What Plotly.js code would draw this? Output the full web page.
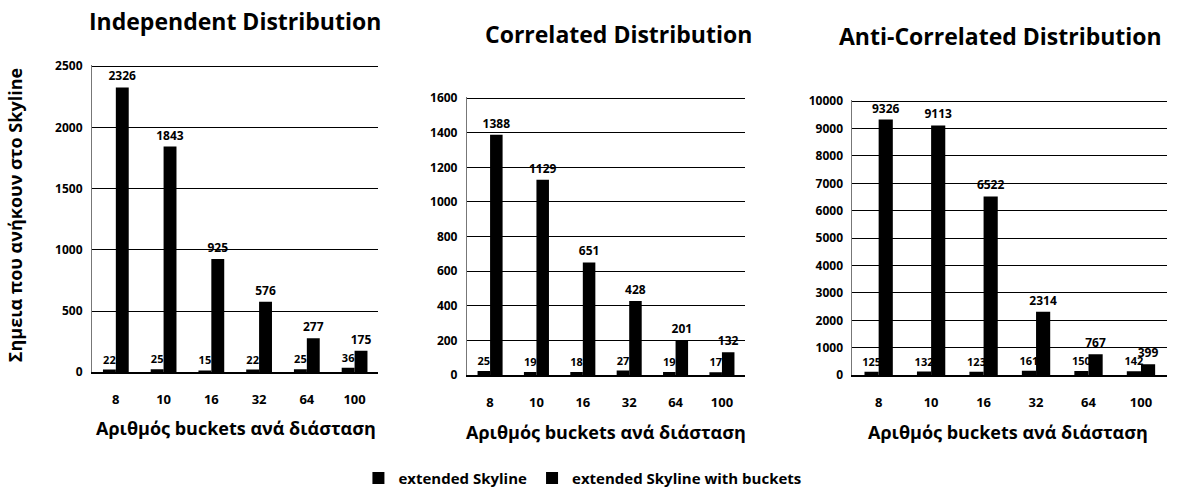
<!DOCTYPE html>
<html>
<head>
<meta charset="utf-8">
<script src="https://cdn.plot.ly/plotly-3.0.1.min.js"></script>
<style>html,body{margin:0;padding:0;background:#fff;}#chart{width:1179px;height:495px;}</style>
</head>
<body>
<div id="chart"></div>
<script>
const categories = ['8', '10', '16', '32', '64', '100'];
const seriesNames = ['extended Skyline', 'extended Skyline with buckets'];

const indepExt = [22, 25, 15, 22, 25, 36];
const indepBuckets = [2326, 1843, 925, 576, 277, 175];
const corrExt = [25, 19, 18, 27, 19, 17];
const corrBuckets = [1388, 1129, 651, 428, 201, 132];
const antiExt = [125, 132, 123, 161, 150, 142];
const antiBuckets = [9326, 9113, 6522, 2314, 767, 399];

const panelTitles = ['Independent Distribution', 'Correlated Distribution', 'Anti-Correlated Distribution'];
const xTitle = 'Αριθμός buckets ανά διάσταση';
const yTitle = 'Σημεια που ανήκουν στο Skyline';

const FONT = 'Open Sans, Liberation Sans, sans-serif';
const panels = [
  {ext: indepExt, bk: indepBuckets, xa: 'x', ya: 'y', range: [0, 2510], dtick: 500},
  {ext: corrExt, bk: corrBuckets, xa: 'x2', ya: 'y2', range: [0, 1606], dtick: 200},
  {ext: antiExt, bk: antiBuckets, xa: 'x3', ya: 'y3', range: [0, 10040], dtick: 1000}
];

const traces = [];
panels.forEach((p, i) => {
  [p.ext, p.bk].forEach((vals, j) => {
    traces.push({
      type: 'bar',
      name: seriesNames[j],
      x: categories,
      y: vals,
      xaxis: p.xa,
      yaxis: p.ya,
      marker: {color: '#000000'},
      text: vals.map(String),
      textposition: 'outside',
      textangle: 0,
      constraintext: 'none',
      cliponaxis: false,
      textfont: {family: FONT, size: j === 0 ? 11 : 12, color: '#000', weight: 'bold'},
      showlegend: i === 0,
      legendgroup: 's' + j,
      hoverinfo: 'x+y'
    });
  });
});

function xaxis(domain, anchor) {
  return {
    domain: domain, anchor: anchor, type: 'category',
    showgrid: false, showline: true, linecolor: '#000', linewidth: 1.5,
    ticks: '', ticklabelstandoff: 15,
    tickfont: {family: FONT, size: 13, color: '#000', weight: 'bold'},
    zeroline: false, fixedrange: true
  };
}
function yaxis(domain, anchor, range, dtick) {
  return {
    domain: domain, anchor: anchor, range: range, dtick: dtick, tick0: 0,
    tickformat: 'd',
    showgrid: true, gridcolor: '#000', gridwidth: 1,
    showline: true, linecolor: '#777', linewidth: 1,
    zeroline: false, ticks: '', ticklabelstandoff: 6,
    tickfont: {family: FONT, size: 12, color: '#000', weight: 'bold'},
    fixedrange: true
  };
}

const titleFont = {family: FONT, size: 23, color: '#000', weight: 'bold'};
const axTitleFont = {family: FONT, size: 18, color: '#000', weight: 'bold'};

const layout = {
  width: 1179, height: 495,
  margin: {l: 0, r: 0, t: 0, b: 0},
  paper_bgcolor: '#fff', plot_bgcolor: '#fff',
  barmode: 'group', bargap: 0.46, bargroupgap: 0,
  font: {family: FONT, color: '#000'},
  xaxis: xaxis([0.078, 0.321], 'y'),
  yaxis: yaxis([0.248, 0.869], 'x', panels[0].range, panels[0].dtick),
  xaxis2: xaxis([0.396, 0.632], 'y2'),
  yaxis2: yaxis([0.242, 0.804], 'x2', panels[1].range, panels[1].dtick),
  xaxis3: xaxis([0.723, 0.990], 'y3'),
  yaxis3: yaxis([0.242, 0.798], 'x3', panels[2].range, panels[2].dtick),
  legend: {
    orientation: 'h', x: 0.494, xanchor: 'center', y: 0.034, yanchor: 'middle',
    font: {family: FONT, size: 15, color: '#000', weight: 'bold'},
    itemwidth: 30, traceorder: 'normal'
  },
  annotations: [
    {text: panelTitles[0], x: 0.199, y: 0.958, xref: 'paper', yref: 'paper', xanchor: 'center', yanchor: 'middle', showarrow: false, font: titleFont},
    {text: panelTitles[1], x: 0.525, y: 0.932, xref: 'paper', yref: 'paper', xanchor: 'center', yanchor: 'middle', showarrow: false, font: titleFont},
    {text: panelTitles[2], x: 0.849, y: 0.928, xref: 'paper', yref: 'paper', xanchor: 'center', yanchor: 'middle', showarrow: false, font: titleFont},
    {text: xTitle, x: 0.2, y: 0.135, xref: 'paper', yref: 'paper', xanchor: 'center', yanchor: 'middle', showarrow: false, font: axTitleFont},
    {text: xTitle, x: 0.514, y: 0.128, xref: 'paper', yref: 'paper', xanchor: 'center', yanchor: 'middle', showarrow: false, font: axTitleFont},
    {text: xTitle, x: 0.855, y: 0.128, xref: 'paper', yref: 'paper', xanchor: 'center', yanchor: 'middle', showarrow: false, font: axTitleFont},
    {text: yTitle, x: 0.013, y: 0.566, xref: 'paper', yref: 'paper', xanchor: 'center', yanchor: 'middle', showarrow: false, textangle: -90,
     font: {family: FONT, size: 18, color: '#000', weight: 'bold'}}
  ]
};

Plotly.newPlot('chart', traces, layout, {displayModeBar: false, staticPlot: true});
</script>
</body>
</html>
